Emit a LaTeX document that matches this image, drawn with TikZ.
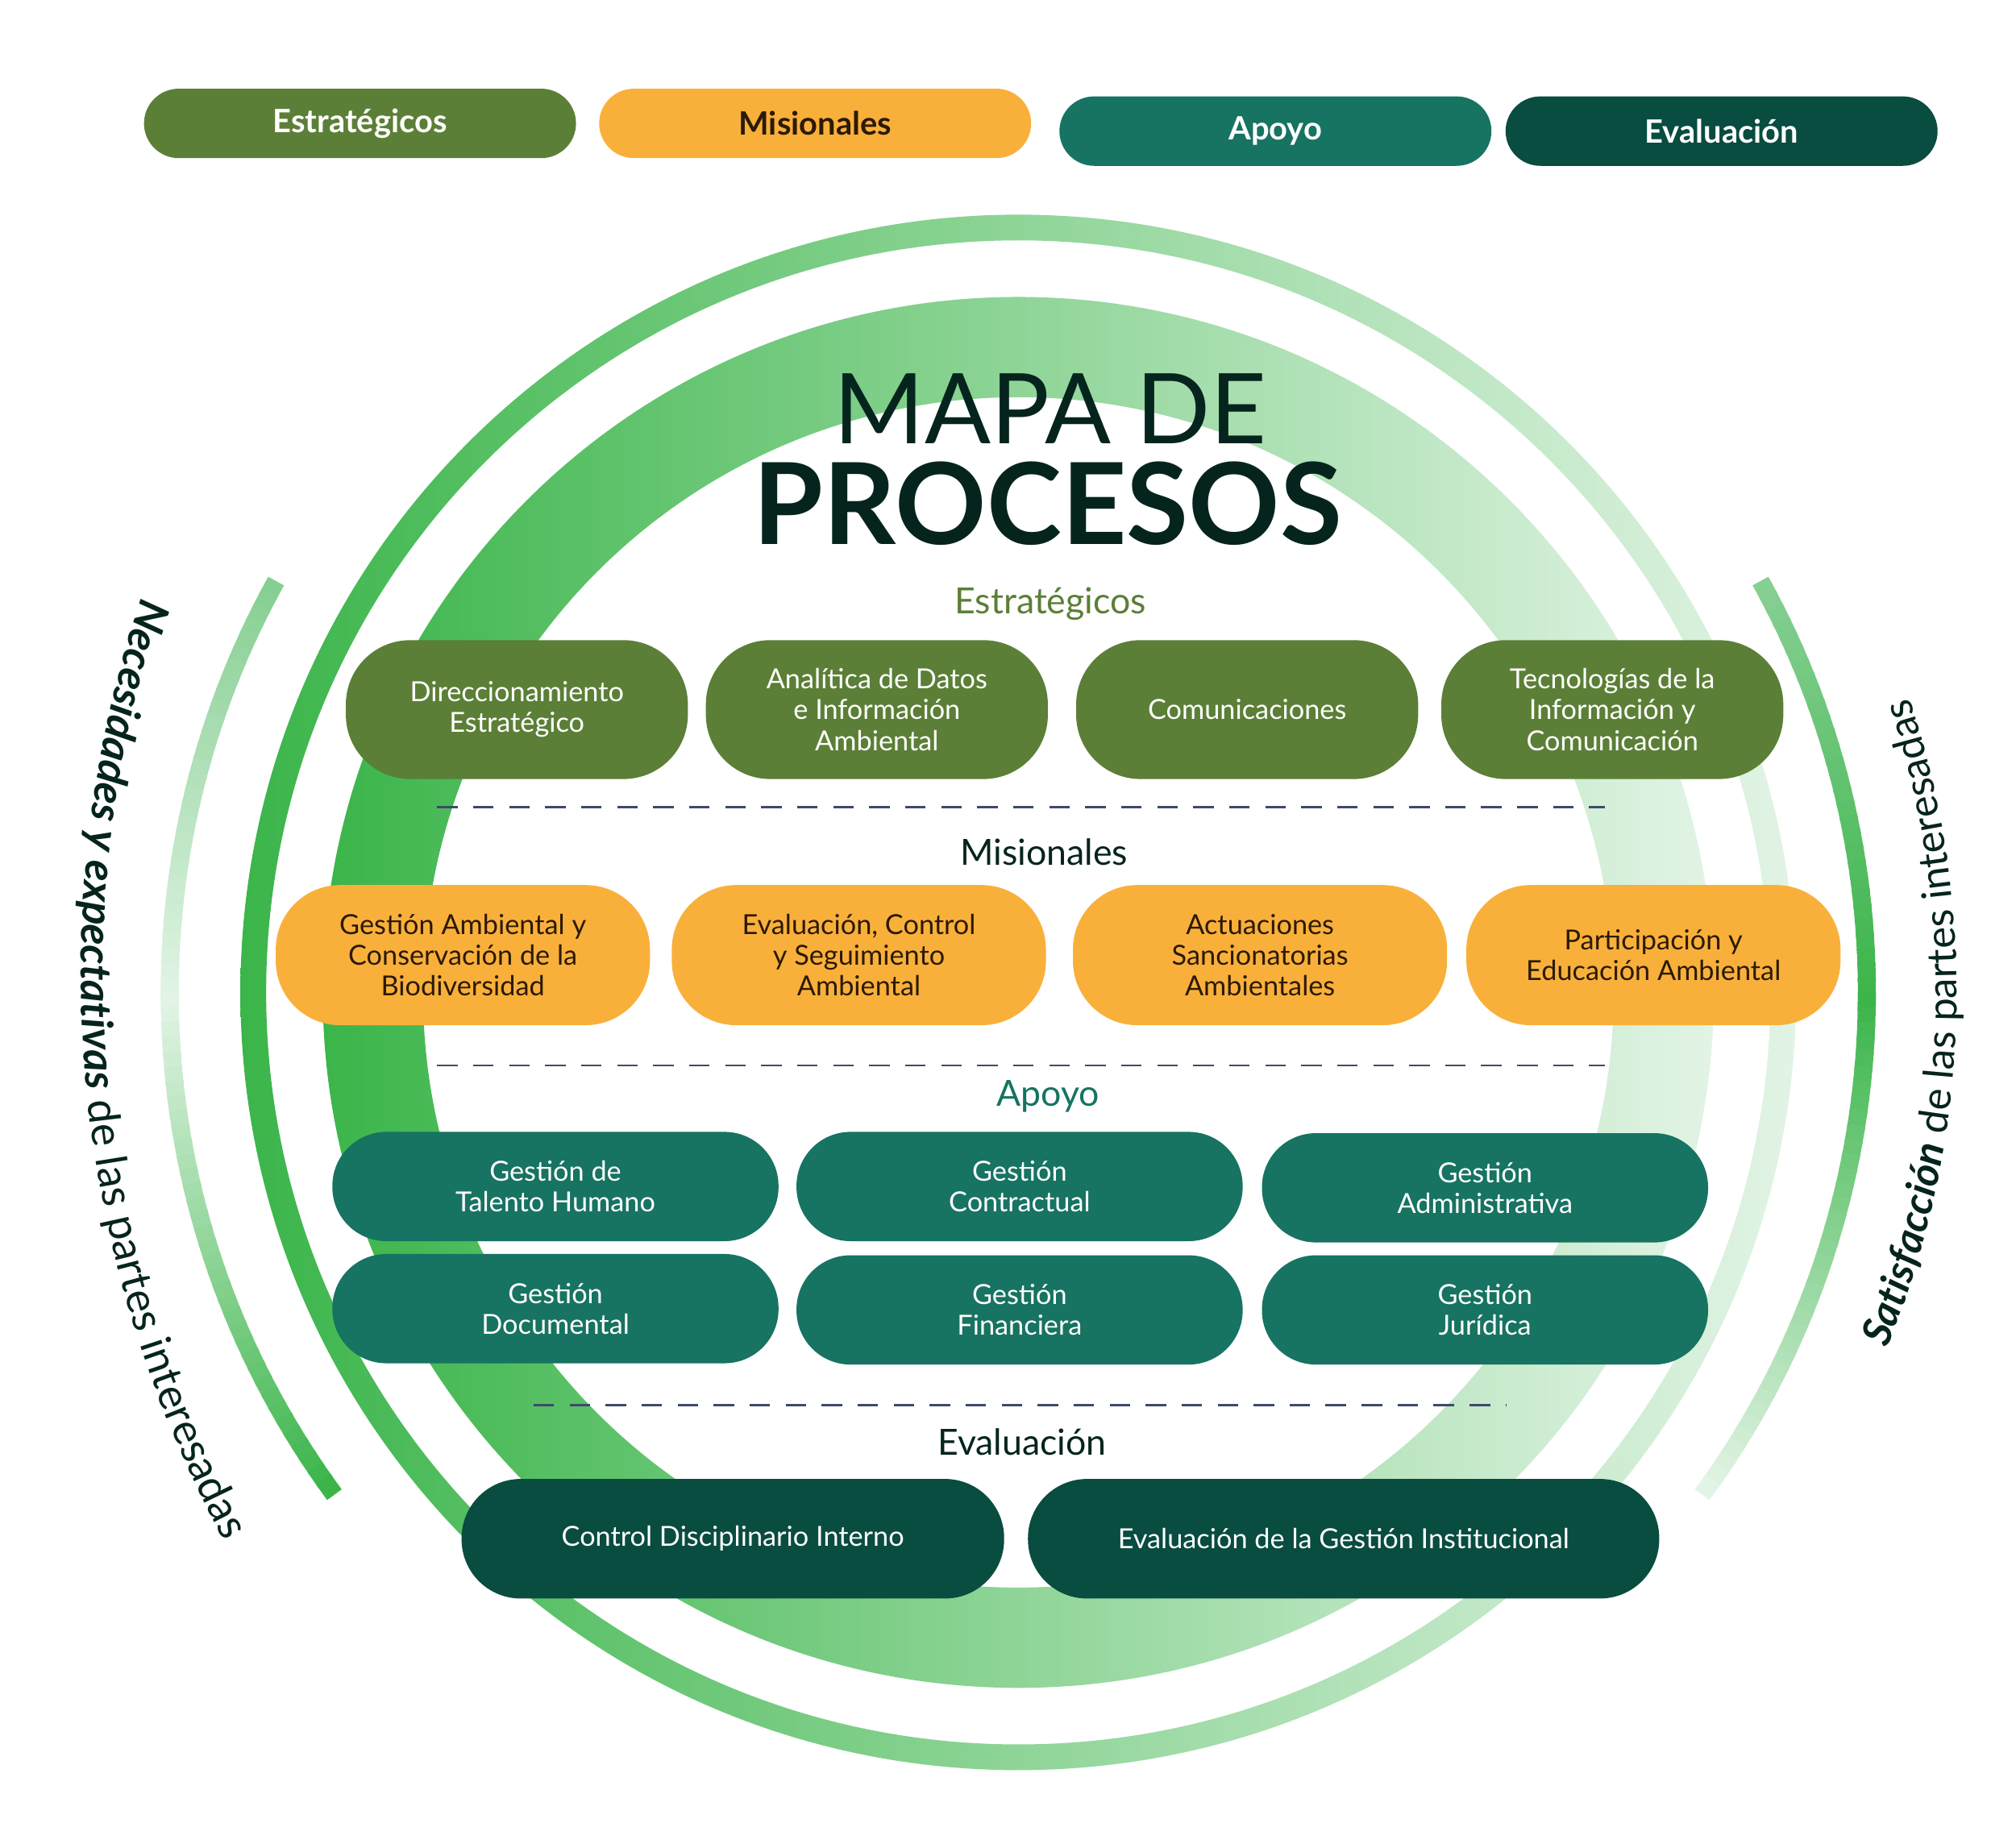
\documentclass[tikz,border=0pt]{standalone}
\usepackage{fontspec}
\setmainfont{Lato}
\usetikzlibrary{decorations.text}
\definecolor{cEst}{HTML}{5B7F36}
\definecolor{cMis}{HTML}{F9B03B}
\definecolor{cApo}{HTML}{177362}
\definecolor{cEva}{HTML}{094C40}
\definecolor{cG}{HTML}{3BB54A}
\definecolor{cL}{HTML}{E2F4E5}
\definecolor{cMid}{HTML}{86CF92}
\definecolor{cTit}{HTML}{06241E}
\definecolor{cDash}{HTML}{3D4A6B}
\definecolor{cMisT}{HTML}{2B1A05}
\begin{document}
\begin{tikzpicture}[x=1pt,y=1pt,
  box/.style={rectangle,rounded corners=50pt,align=center,text=white,font=\fontsize{21.5}{24}\selectfont,inner sep=0pt},
  est/.style={box,fill=cEst,minimum width=266pt,minimum height=108pt},
  mis/.style={box,fill=cMis,text=cMisT,minimum width=291pt,minimum height=109pt},
  apo/.style={box,fill=cApo,rounded corners=42pt,minimum width=347pt,minimum height=85pt},
  eva/.style={box,fill=cEva,rounded corners=46pt,minimum height=93pt},
  leg/.style={rectangle,rounded corners=27pt,minimum width=336pt,minimum height=54pt,font=\fontsize{25}{25}\selectfont\bfseries,text=white},
  sec/.style={font=\fontsize{28}{28}\selectfont},
  dsh/.style={cDash,line width=1.5pt,dash pattern=on 16pt off 12pt}]
\useasboundingbox (0,0) rectangle (1568,-1437);
\coordinate (C) at (792,-772);
\coordinate (CL) at (995,-757);
\coordinate (CR) at (792,-772);
% rings
\path[even odd rule,left color=cG,right color=cL] (C) circle[radius=605] (C) circle[radius=585];
\path[even odd rule,left color=cG,right color=cL] (C) circle[radius=541] (C) circle[radius=463];
% side arcs
\foreach \i in {0,...,29}{\pgfmathsetmacro\p{100-\i*100/29}
  \draw[line width=14pt,color=cMid!\p!cL] (C) ++(151+\i:660) arc[start angle=151+\i,end angle=152.3+\i,radius=660];}
\foreach \i in {0,...,35}{\pgfmathsetmacro\p{\i*100/35}
  \draw[line width=14pt,color=cG!\p!cL] (C) ++(180+\i:660) arc[start angle=180+\i,end angle=181.3+\i,radius=660];}
\foreach \i in {0,...,29}{\pgfmathsetmacro\p{\i*100/29}
  \draw[line width=14pt,color=cG!\p!cMid] (C) ++(29-\i:660) arc[start angle=29-\i,end angle=27.7-\i,radius=660];}
\foreach \i in {0,...,35}{\pgfmathsetmacro\p{100-\i*100/35}
  \draw[line width=14pt,color=cG!\p!cL] (C) ++(0-\i:660) arc[start angle=0-\i,end angle=-1.3-\i,radius=660];}
% side texts
\path[decorate,decoration={text along path,text align=center,
  text={|\fontsize{33.5}{34}\selectfont\bfseries\itshape\color{cTit}|Necesidades y expectativas|\fontsize{33.5}{34}\selectfont\mdseries\upshape\color{cTit}| de las partes interesadas}}]
  (CL) ++(148:932) arc[start angle=148,end angle=222,radius=932];
\path[decorate,decoration={text along path,text align=center,
  text={|\fontsize{32}{32}\selectfont\bfseries\itshape\color{cTit}|Satisfacción|\fontsize{32}{32}\selectfont\mdseries\upshape\color{cTit}| de las partes interesadas}}]
  (CR) ++(-46:730) arc[start angle=-46,end angle=42,radius=730];
% legend
\node[leg,fill=cEst] (l1) at (280,-96) {Estratégicos};
\node[leg,fill=cMis,text=cMisT] (l2) at (634,-96) {Misionales};
\node[leg,fill=cApo] (l3) at (992,-102) {Apoyo};
\node[leg,fill=cEva] (l4) at (1339,-102) {Evaluación};
% title
\node[text=cTit,font=\fontsize{76}{76}\selectfont] (t1) at (817,-318) {MAPA DE};
\node[text=cTit,font=\fontsize{88}{88}\selectfont\bfseries] (t2) at (815,-392) {PROCESOS};
% sections
\node[sec,text=cEst] (h1) at (817,-470) {Estratégicos};
\node[est] (s1) at (402,-552) {Direccionamiento\\Estratégico};
\node[est] (s2) at (682,-552) {Analítica de Datos\\e Información\\Ambiental};
\node[est] (s3) at (970,-552) {Comunicaciones};
\node[est] (s4) at (1254,-552) {Tecnologías de la\\Información y\\Comunicación};
\draw[dsh] (340,-628) -- (1248,-628);
\node[sec,text=cTit] (h2) at (812,-663) {Misionales};
\node[mis] (m1) at (360,-743) {Gestión Ambiental y\\Conservación de la\\Biodiversidad};
\node[mis] (m2) at (668,-743) {Evaluación, Control\\y Seguimiento\\Ambiental};
\node[mis] (m3) at (980,-743) {Actuaciones\\Sancionatorias\\Ambientales};
\node[mis] (m4) at (1286,-743) {Participación y\\Educación Ambiental};
\draw[dsh] (340,-829) -- (1248,-829);
\node[sec,text=cApo] (h3) at (815,-853) {Apoyo};
\node[apo] (a1) at (432,-923) {Gestión de\\Talento Humano};
\node[apo] (a2) at (793,-923) {Gestión\\Contractual};
\node[apo] (a3) at (1155,-924) {Gestión\\Administrativa};
\node[apo] (a4) at (432,-1018) {Gestión\\Documental};
\node[apo] (a5) at (793,-1019) {Gestión\\Financiera};
\node[apo] (a6) at (1155,-1019) {Gestión\\Jurídica};
\draw[dsh] (415,-1093) -- (1172,-1093);
\node[sec,text=cTit] (h4) at (795,-1122) {Evaluación};
\node[eva,minimum width=422pt] (e1) at (570,-1197) {Control Disciplinario Interno};
\node[eva,minimum width=491pt] (e2) at (1045,-1197) {Evaluación de la Gestión Institucional};
\end{tikzpicture}
\end{document}
